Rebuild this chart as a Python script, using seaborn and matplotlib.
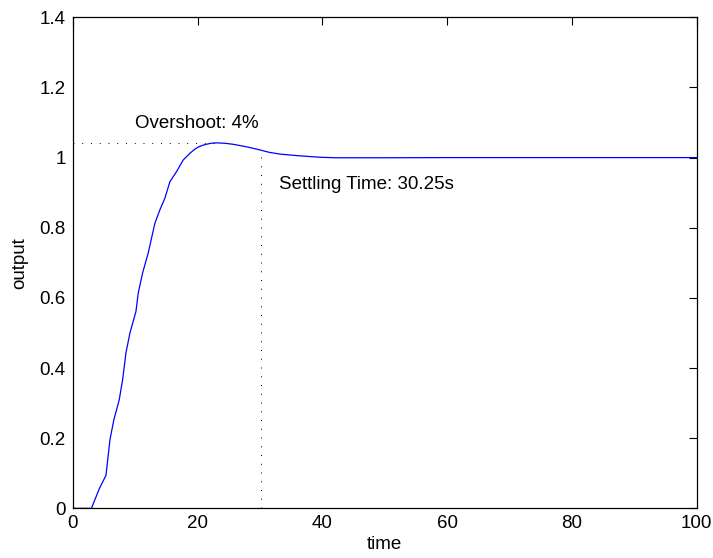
import matplotlib
matplotlib.use("Agg")
import matplotlib.pyplot as plt
import seaborn as sns
import pandas as pd

# data
time = [0, 3.0, 4.26, 5.33, 5.97, 6.6, 7.46, 8.0, 8.53, 9.17, 10.13, 10.5, 11.2,
        12.1, 13.17, 13.97, 14.77, 15.57, 16.64, 17.7, 18.77, 19.5, 20.1, 20.8, 21.44,
        22.2, 23.04, 24.3, 25.7, 27.8, 29.97, 31.5, 33.2, 36.4, 39.6, 42, 50, 60, 80, 100]
output = [0, 0, 0.056, 0.094, 0.196, 0.253, 0.310, 0.367, 0.443, 0.50, 0.561, 0.614,
          0.671, 0.728, 0.813, 0.851, 0.884, 0.931, 0.960, 0.993, 1.012, 1.023, 1.030,
          1.035, 1.038, 1.041, 1.042, 1.041, 1.038, 1.031, 1.022, 1.015, 1.010, 1.005,
          1.001, 0.9995, 0.9995, 1.0, 1.0, 1.0]
peak_time = 23.04
peak_value = 1.042
settling_time = 30.25
settling_value = 1.021
overshoot_text = "Overshoot: 4%"
settling_text = "Settling Time: 30.25s"
xticks = [0, 20, 40, 60, 80, 100]
yticks = [0, 0.2, 0.4, 0.6, 0.8, 1, 1.2, 1.4]
yticklabels = ["0", "0.2", "0.4", "0.6", "0.8", "1", "1.2", "1.4"]

sns.set_style("white")
plt.rcParams['font.family'] = ['Liberation Sans', 'DejaVu Sans']
plt.rcParams['font.size'] = 13.5
plt.rcParams['text.color'] = 'black'
plt.rcParams['axes.labelcolor'] = 'black'

df = pd.DataFrame({"time": time, "output": output})

fig = plt.figure(figsize=(7.13, 5.58), dpi=100)
ax = fig.add_axes([0.102, 0.089, 0.875, 0.880])

sns.lineplot(data=df, x="time", y="output", ax=ax, color=(0, 0, 1), lw=0.9,
             estimator=None, sort=False)

ax.plot([0, peak_time], [peak_value, peak_value], color="black", lw=0.7,
        linestyle=(0, (1, 8)))
ax.plot([settling_time, settling_time], [0, settling_value], color="black", lw=0.7,
        linestyle=(0, (1, 8)))

ax.text(10, 1.097, overshoot_text, ha="left", va="center", fontsize=13.5, color="black")
ax.text(33, 0.923, settling_text, ha="left", va="center", fontsize=13.5, color="black")

ax.set_xlim(0, 100)
ax.set_ylim(0, 1.4)
ax.set_xticks(xticks)
ax.set_xticklabels([str(x) for x in xticks])
ax.set_yticks(yticks)
ax.set_yticklabels(yticklabels)
ax.tick_params(direction="in", length=6, width=0.8, top=True, right=True,
               labelsize=13.5, colors="black", pad=5)
for s in ax.spines.values():
    s.set_visible(True)
    s.set_color("black")
    s.set_linewidth(0.9)
ax.set_xlabel("time", fontsize=13.5, labelpad=3, color="black")
ax.set_ylabel("output", fontsize=13.5, labelpad=8, color="black")

fig.savefig("out.png", dpi=100)
